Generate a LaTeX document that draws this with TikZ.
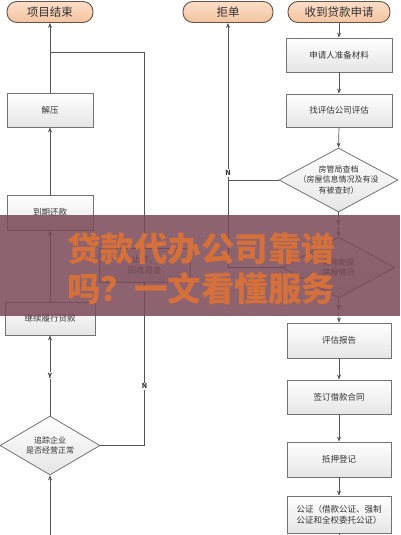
\documentclass[tikz,border=0pt]{standalone}
\usepackage{fontspec}
\setmainfont{Noto Sans CJK SC}
\usetikzlibrary{shapes.geometric,arrows.meta}
\definecolor{lineg}{RGB}{85,85,85}
\definecolor{peach}{RGB}{244,196,160}
\definecolor{peachl}{RGB}{250,222,200}
\definecolor{brownb}{RGB}{105,80,65}
\definecolor{bandc}{RGB}{120,72,86}
\definecolor{wmorange}{RGB}{214,112,58}
\tikzset{
  term/.style={draw=brownb, line width=0.9pt, rounded corners=10pt, top color=peachl, bottom color=peach,
    minimum height=21pt, inner sep=0pt, text=black!80, font=\fontsize{11.5}{12}\selectfont},
  procbox/.style={draw=black!55, line width=0.8pt, top color=white, bottom color=black!10,
    inner sep=0pt, text=black!80, font=\fontsize{8.5}{11}\selectfont, align=center},
  dia/.style={diamond, draw=black!55, line width=0.8pt, top color=white, bottom color=black!10, inner sep=0pt},
  diatext/.style={text=black!80, font=\fontsize{8}{10.5}\selectfont, align=center, inner sep=0pt},
  conn/.style={draw=lineg, line width=0.7pt},
  arr/.style={conn, -{Stealth[length=5pt,width=4pt]}},
  yn/.style={fill=white, inner sep=1pt, text=black!80, font=\bfseries\fontsize{7}{8}\selectfont},
  wm/.style={anchor=west, inner sep=0pt, text=wmorange, font=\bfseries\fontsize{33.5}{36}\selectfont}
}
\begin{document}
\begin{tikzpicture}[x=1pt,y=-1pt]
\useasboundingbox (0,0) rectangle (400,535);
\fill[white] (0,0) rectangle (400,535);
% left column
\node[term, minimum width=86pt] (end) at (50,12) {项目结束};
\node[procbox, minimum width=86pt, minimum height=34pt] (jieya) at (50,110) {解压};
\node[procbox, minimum width=86pt, minimum height=35pt] (daoqi) at (50,212.5) {到期还款};
\node[procbox, minimum width=90pt, minimum height=33pt] (jixu) at (50,318.5) {继续履行贷款};
\node[dia, minimum width=100pt, minimum height=59pt] (zhui) at (50,445.5) {};
\node[diatext] (zhuit) at (zhui.center) {追踪企业\\是否经营正常};
\node[procbox, minimum width=91pt, minimum height=34pt] (huishou) at (144.5,265) {止贷，\\回收资金};
\coordinate (lbot) at (50,535);
\coordinate (j1) at (50,52);
\draw[arr] (jieya.north) -- (end.south);
\draw[arr] (daoqi.north) -- (jieya.south);
\draw[arr] (jixu.north) -- (daoqi.south);
\draw[arr] (zhui.north) -- node[yn, pos=0.5] {Y} (jixu.south);
\draw[arr] (lbot) -- (zhui.south);
\draw[arr] (zhui.east) -| node[yn, pos=0.682] {N} (huishou.south);
\draw[conn] (huishou.north) |- (j1);
% right column
\node[term, minimum width=102pt] (start) at (339,12) {收到贷款申请};
\node[term, minimum width=90pt] (reject) at (228,12) {拒单};
\node[procbox, minimum width=106pt, minimum height=34pt] (cailiao) at (339,55) {申请人准备材料};
\node[procbox, minimum width=106pt, minimum height=33pt] (pinggu) at (339,110.5) {找评估公司评估};
\node[dia, minimum width=119pt, minimum height=64pt] (fang) at (338.5,180) {};
\node[diatext] (fangt) at (fang.center) {房管局查档\\（房屋信息情况及有没\\有被查封）};
\node[dia, minimum width=113pt, minimum height=61pt] (shidi) at (338.5,267.5) {};
\node[diatext] (shidit) at (shidi.center) {实地勘探\\房屋情况};
\node[procbox, minimum width=104pt, minimum height=35pt] (baogao) at (339,340.5) {评估报告};
\node[procbox, minimum width=104pt, minimum height=34pt] (qian) at (339,397) {签订借款合同};
\node[procbox, minimum width=104pt, minimum height=35pt] (diya) at (339,459.5) {抵押登记};
\node[procbox, minimum width=104pt, minimum height=37pt] (gz) at (339,514.5) {公证（借款公证、强制\\公证和全权委托公证）};
\coordinate (rbot) at (339,535);
\draw[arr] (start.south) -- (cailiao.north);
\draw[arr] (cailiao.south) -- (pinggu.north);
\draw[arr] (pinggu.south) -- (fang.north);
\draw[arr] (fang.south) -- node[yn, pos=0.44] {Y} (shidi.north);
\draw[arr] (shidi.south) -- node[yn, pos=0.4] {Y} (baogao.north);
\draw[arr] (baogao.south) -- (qian.north);
\draw[arr] (qian.south) -- (diya.north);
\draw[arr] (diya.south) -- (gz.north);
\draw[conn] (gz.south) -- (rbot);
\draw[arr] (fang.west) -| node[yn, pos=0.522] {N} (reject.south);
\draw[conn] (shidi.west) -| (reject.south |- fang.west);
% watermark band
\fill[bandc, opacity=0.85] (0,215) rectangle (400,316);
\node[wm] (wm1) at (67,249) {贷款代办公司靠谱};
\node[wm] (wm2) at (67,289) {吗？一文看懂服务};
\end{tikzpicture}
\end{document}
